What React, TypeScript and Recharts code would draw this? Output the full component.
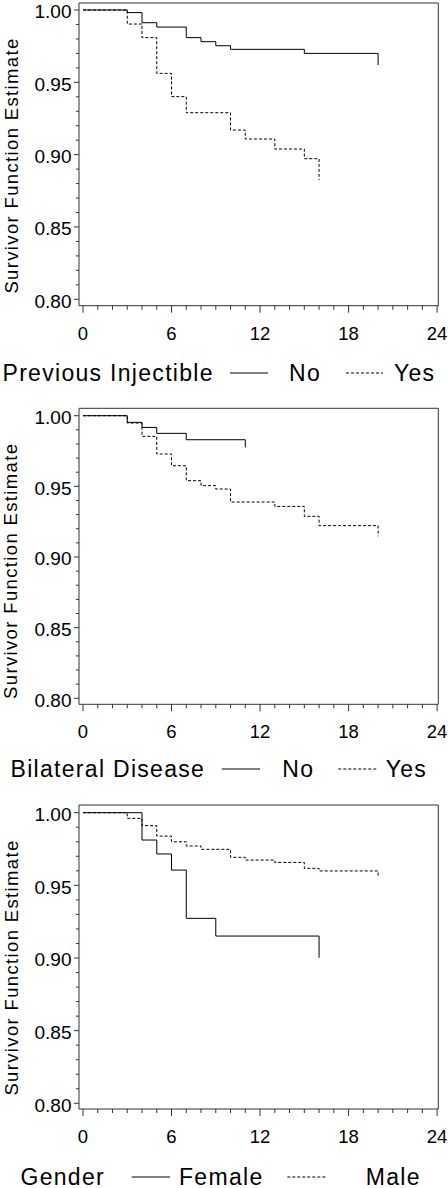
import { Legend, Line, LineChart, ReferenceArea, XAxis, YAxis } from 'recharts';

const FONT = '"Liberation Sans", Arial, Helvetica, sans-serif';

// Previous Injectible
const injNoTime = [0, 3, 4, 5, 7, 8, 9, 10, 15, 20];
const injNoSurv = [1, 0.9982, 0.9912, 0.9882, 0.9809, 0.9781, 0.9753, 0.9728, 0.97, 0.962];
const injYesTime = [0, 3, 4, 5, 6, 7, 10, 11, 13, 15, 16];
const injYesSurv = [1, 0.9903, 0.9809, 0.9562, 0.9401, 0.929, 0.917, 0.9108, 0.9039, 0.8972, 0.8825];

// Bilateral Disease
const bilNoTime = [0, 3, 4, 5, 7, 11];
const bilNoSurv = [1, 0.9953, 0.9917, 0.9875, 0.983, 0.9776];
const bilYesTime = [0, 3, 4, 5, 6, 7, 8, 9, 10, 13, 15, 16, 20];
const bilYesSurv = [1, 0.9948, 0.9854, 0.9729, 0.9646, 0.954, 0.9505, 0.9481, 0.9389, 0.9358, 0.9288, 0.9222, 0.9146];

// Gender
const femaleTime = [0, 4, 5, 6, 7, 9, 16];
const femaleSurv = [1, 0.9812, 0.9716, 0.9605, 0.9273, 0.9151, 0.9002];
const maleTime = [0, 3, 4, 5, 6, 7, 8, 10, 11, 13, 15, 16, 20];
const maleSurv = [1, 0.9961, 0.9911, 0.9839, 0.98, 0.9771, 0.9748, 0.9693, 0.9674, 0.9658, 0.9617, 0.9599, 0.9564];

const xTicks = [0, 1, 2, 3, 4, 5, 6, 7, 8, 9, 10, 11, 12, 13, 14, 15, 16, 17, 18, 19, 20, 21, 22, 23, 24];
const xMajor = [0, 6, 12, 18, 24];
const yTicks = [
  0.8, 0.81, 0.82, 0.83, 0.84, 0.85, 0.86, 0.87, 0.88, 0.89, 0.9,
  0.91, 0.92, 0.93, 0.94, 0.95, 0.96, 0.97, 0.98, 0.99, 1.0,
];
const yMajor = [0.8, 0.85, 0.9, 0.95, 1.0];

const toRows = (t: number[], s: number[]) => t.map((v, i) => ({ t: v, s: s[i] }));

const X_MIN = -0.27;
const X_MAX = 24.08;

type Panel = {
  title: string;
  names: [string, string];
  series: [{ t: number; s: number }[], { t: number; s: number }[]];
  top: number;
  height: number;
  marginTop: number;
  marginBottom: number;
  yDomain: [number, number];
  legendTop: number;
  legendX: number[]; // title, line1 start, line1 end, label1, line2 start, line2 end, label2
};

const panels: Panel[] = [
  {
    title: 'Previous Injectible',
    names: ['No', 'Yes'],
    series: [toRows(injNoTime, injNoSurv), toRows(injYesTime, injYesSurv)],
    top: 0,
    height: 400,
    marginTop: 3,
    marginBottom: 54.3,
    yDomain: [0.79558, 1.00484],
    legendTop: 350,
    legendX: [2.5, 230, 268, 289, 346, 383, 394],
  },
  {
    title: 'Bilateral Disease',
    names: ['No', 'Yes'],
    series: [toRows(bilNoTime, bilNoSurv), toRows(bilYesTime, bilYesSurv)],
    top: 400,
    height: 400,
    marginTop: 8.3,
    marginBottom: 55.7,
    yDomain: [0.79575, 1.00524],
    legendTop: 346,
    legendX: [10.5, 221.7, 260, 282.3, 338.3, 376.7, 385.7],
  },
  {
    title: 'Gender',
    names: ['Female', 'Male'],
    series: [toRows(femaleTime, femaleSurv), toRows(maleTime, maleSurv)],
    top: 800,
    height: 388,
    marginTop: 5,
    marginBottom: 39,
    yDomain: [0.79608, 1.0053],
    legendTop: 354,
    legendX: [20.5, 131.7, 170, 179, 287.3, 326, 365.7],
  },
];

const DASH = '3 2';

const YTick = (props: any) => {
  const { x, y, payload } = props;
  const major = yMajor.some((v) => Math.abs(v - payload.value) < 1e-6);
  return (
    <g>
      <line x1={x - (major ? 5 : 3)} x2={x} y1={y} y2={y} stroke="#333" />
      {major && (
        <text x={x - 7.5} y={y + 8.3} textAnchor="end" fontSize={19} fontFamily={FONT} fill="#000">
          {payload.value.toFixed(2)}
        </text>
      )}
    </g>
  );
};

const XTick = (props: any) => {
  const { x, y, payload } = props;
  const major = xMajor.includes(payload.value);
  return (
    <g>
      <line x1={x} x2={x} y1={y} y2={y + (major ? 7 : 4)} stroke="#333" />
      {major && (
        <text x={x} y={y + 34} textAnchor="middle" fontSize={18.5} fontFamily={FONT} fill="#000">
          {payload.value}
        </text>
      )}
    </g>
  );
};

const YLabel = (props: any) => {
  const vb = props.viewBox;
  const cy = vb.y + 162.5;
  return (
    <text
      x={17.5}
      y={cy}
      transform={`rotate(-90 17.5 ${cy})`}
      textAnchor="middle"
      fontSize={18.5}
      letterSpacing={1.35}
      fontFamily={FONT}
      fill="#000"
    >
      Survivor Function Estimate
    </text>
  );
};

const makeLegend = (p: Panel) => (props: any) => {
  const items = props.payload ?? [];
  const lx = p.legendX;
  const base = 31;
  const ly = 23;
  const txt = { fontSize: 23, letterSpacing: 1.3, fontFamily: FONT, fill: '#000' };
  const label = (i: number) => (items[i] && items[i].value) || p.names[i];
  return (
    <svg width={448} height={45} style={{ display: 'block' }}>
      <text x={lx[0]} y={base} {...txt}>{p.title}</text>
      <line x1={lx[1]} x2={lx[2]} y1={ly} y2={ly} stroke="#000" />
      <text x={lx[3]} y={base} {...txt}>{label(0)}</text>
      <line x1={lx[4]} x2={lx[5]} y1={ly} y2={ly} stroke="#000" strokeDasharray={DASH} />
      <text x={lx[6]} y={base} {...txt}>{label(1)}</text>
    </svg>
  );
};

const SurvivalPanel = ({ p }: { p: Panel }) => (
  <div style={{ position: 'absolute', left: 0, top: p.top }}>
    <LineChart
      width={448}
      height={p.height}
      margin={{ top: p.marginTop, right: 9.7, bottom: p.marginBottom, left: 0 }}
    >
      <XAxis
        type="number"
        dataKey="t"
        domain={[X_MIN, X_MAX]}
        allowDataOverflow
        ticks={xTicks}
        interval={0}
        tickSize={0}
        tickMargin={0}
        tick={<XTick />}
        axisLine={false}
        height={40}
      />
      <YAxis
        type="number"
        dataKey="s"
        domain={p.yDomain}
        allowDataOverflow
        ticks={yTicks}
        interval={0}
        tickSize={0}
        tickMargin={0}
        tick={<YTick />}
        axisLine={false}
        width={79}
        label={YLabel}
      />
      <ReferenceArea
        x1={X_MIN}
        x2={X_MAX}
        y1={p.yDomain[0]}
        y2={p.yDomain[1]}
        fill="none"
        stroke="#333"
        strokeWidth={1}
        ifOverflow="visible"
      />
      <Line
        data={p.series[0]}
        dataKey="s"
        name={p.names[0]}
        type="stepAfter"
        stroke="#000"
        strokeWidth={1}
        dot={false}
        activeDot={false}
        isAnimationActive={false}
      />
      <Line
        data={p.series[1]}
        dataKey="s"
        name={p.names[1]}
        type="stepAfter"
        stroke="#000"
        strokeWidth={1}
        strokeDasharray={DASH}
        dot={false}
        activeDot={false}
        isAnimationActive={false}
      />
      <Legend
        verticalAlign="middle"
        layout="horizontal"
        wrapperStyle={{ top: p.legendTop, left: 0, width: 448, height: 45 }}
        content={makeLegend(p)}
      />
    </LineChart>
  </div>
);

export default function App() {
  return (
    <div
      style={{
        position: 'absolute',
        left: 0,
        top: 0,
        width: 448,
        height: 1188,
        background: '#fff',
        fontFamily: FONT,
      }}
    >
      {panels.map((p) => (
        <SurvivalPanel key={p.title} p={p} />
      ))}
    </div>
  );
}
